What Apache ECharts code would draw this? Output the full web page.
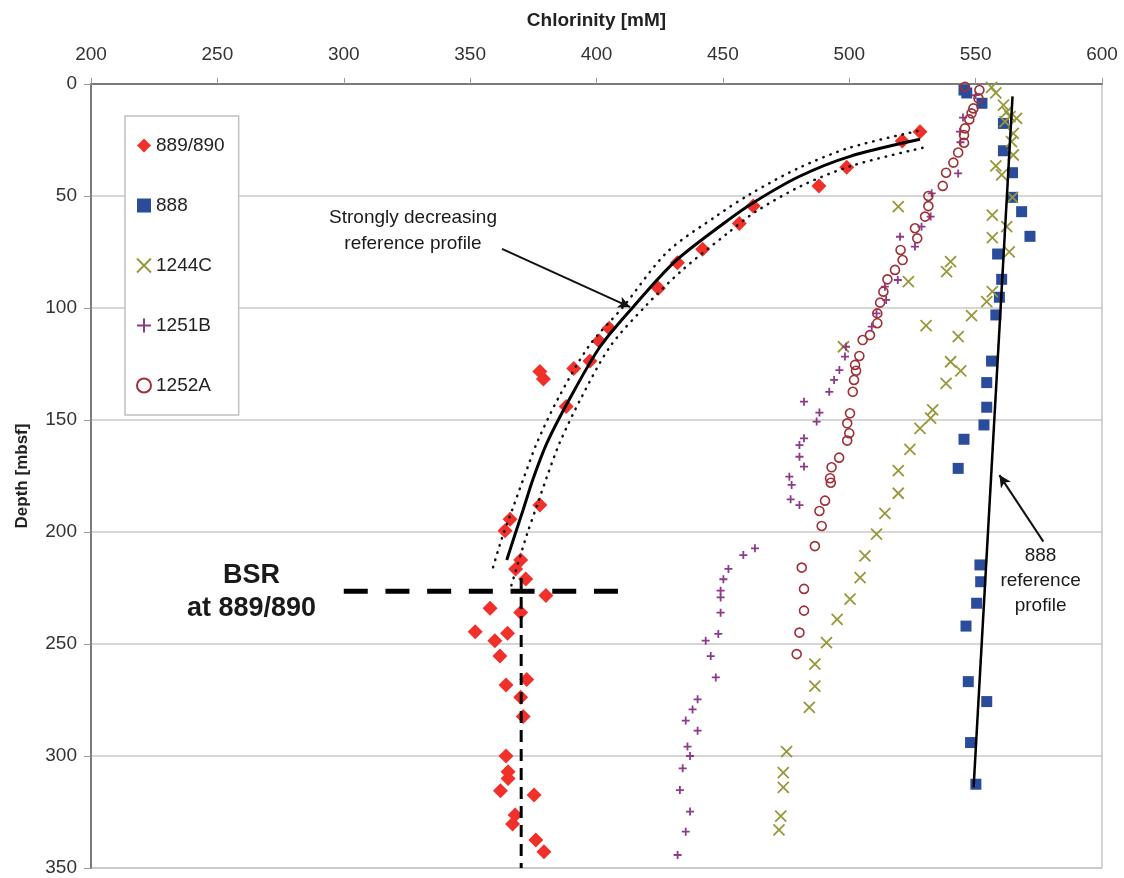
<!DOCTYPE html>
<html><head><meta charset="utf-8">
<script src="https://cdn.jsdelivr.net/npm/echarts@6/dist/echarts.min.js"></script>
<style>html,body{margin:0;padding:0;background:#fff}#c{width:1124px;height:878px}</style>
</head><body><div id="c"></div>
<script>
// ---- Data (chlorinity mM, depth mbsf) ----
const xTicks = [200,250,300,350,400,450,500,550,600];
const yTicks = [0,50,100,150,200,250,300,350];
const seriesNames = ['889/890','888','1244C','1251B','1252A'];

const s889 = [[528,21.3],[521,25.4],[499,37.2],[488,45.5],[462,54.5],[456.5,62.3],[442,73.8],[432,79.8],[424.5,91.2],[405,109],[401,114.7],[397.4,123.7],[391,127],[377.6,128.4],[379,131.7],[388,144],[377.6,188],[365.8,194.3],[363.8,199.4],[370,212.5],[368,216.5],[372,221],[380,228.4],[357.9,234],[370,235.9],[352,244.5],[364.8,245.2],[359.8,248.5],[361.8,255.4],[364.2,268.3],[372.4,265.8],[370,273.8],[371,282.4],[364.2,300],[365,307],[365,310],[362,315.5],[375.3,317.4],[367.8,326.3],[366.8,330.4],[376,337.5],[379.2,342.7]];

const s888 = [[545.4,2.7],[546.5,4],[552.5,8.6],[561,17.6],[561,29.8],[564.6,39.6],[564.6,50.6],[568.2,57],[571.5,68],[558.7,75.9],[560.3,87.2],[559.4,95.2],[558,103.1],[556.3,123.7],[554.4,133.3],[554.4,144.3],[553.3,152.2],[545.4,158.6],[543.1,171.6],[551.7,214.7],[552,222.2],[550.4,231.8],[546.2,242],[547.1,266.8],[554.4,275.7],[548,294],[550.1,312.6]];

const s1244C = [[556.3,1.5],[558,4],[561,9.4],[562.3,12.4],[563.6,14.6],[566.2,15.3],[561.6,16.8],[564.9,22],[564.2,25.7],[564.9,31.7],[558,36.6],[560.3,40.6],[564.6,50.6],[519.4,54.7],[556.6,58.5],[562.3,63.7],[556.6,68.6],[563.3,74.9],[540.1,79.3],[538.5,83.8],[523.4,88.2],[556.6,92.7],[554.4,97.2],[548.4,103.4],[530.4,107.9],[543.1,112.8],[497.7,117.3],[540.1,124],[544.1,128.1],[538.3,133.6],[533,145.5],[532.2,149.2],[528,153.7],[524,163.1],[519.4,172.6],[519.4,182.7],[514.1,191.7],[510.8,200.9],[506.2,210.7],[504.3,220.4],[500.3,230],[495.2,239],[491,249.4],[486.4,259],[486.4,268.8],[484.2,278.3],[475.2,298],[473.9,307.4],[473.9,314],[472.9,326.8],[472.2,333]];

const s1251B = [[550,5],[545,15],[543.8,21.3],[544,26],[543.1,39.9],[532.6,48.8],[532.2,59.2],[528.6,63.7],[520.1,68.2],[526,72.6],[519.2,87.5],[514.1,90.5],[514.6,96.4],[510.8,102.4],[508.9,108.3],[498.7,117.3],[498.3,121.7],[496.1,127.7],[494,132.1],[492.1,137.4],[482.1,141.8],[488.2,146.7],[487.1,150.7],[482.1,158.2],[480.3,161.2],[480.3,166.4],[482.1,170.8],[476.3,175.3],[477.2,179],[476.8,185.4],[480.3,188],[462.7,207.3],[458.1,210.3],[452.2,216.5],[450.2,221.1],[449.1,226.2],[449.1,229.2],[449.1,236],[448.2,245.5],[443.2,248.5],[445.2,255.4],[447.2,264.9],[440,274.7],[438,279.2],[435.3,284.2],[440,288.7],[436,295.8],[437,300],[434.1,305.5],[433,315.2],[437,324.8],[435.3,333.8],[432.1,344.2]];

const s1252A = [[545.8,1.2],[551.5,2.7],[551.1,6.4],[549.1,10.9],[548.4,13.1],[547.5,15.8],[545.8,19.8],[545.4,22.8],[545.4,26.2],[543.1,30.6],[541.2,35.1],[538.3,39.6],[537,45.5],[531.3,50],[531.3,54.5],[530,59.2],[526,64.4],[526.9,68.9],[520.3,74.1],[521.1,78.6],[518.1,83],[515.1,87.2],[513.5,92.7],[512.2,97.6],[511.1,102.4],[511.1,106.8],[508.2,112.1],[505.3,114.3],[504,121.4],[502.3,125.4],[502.7,128],[501.9,132.1],[501.4,137.4],[500.3,147],[499.2,151.5],[500,155.9],[499.2,159.2],[496,166.8],[493,171.1],[492.4,176],[492.7,178],[490.4,186],[488.2,190.6],[489.1,197.3],[486.4,206.3],[481.2,215.9],[482.1,225.4],[482.1,235.1],[480.3,244.9],[479.2,254.5]];

// reference profiles
const refStrong = [[528,24.7],[500,32.4],[480,41.4],[462,53],[450,62.5],[431,79.3],[414.6,99.4],[401.4,117.3],[389.5,140.3],[380.5,160],[375,176],[371,190],[367.5,202],[364.5,212.5]];
const refStrongLo = [[527,21],[500,28.5],[480,37.5],[461,49],[448,58.5],[428,75],[410.6,99.4],[397,117],[385,140],[376.5,160],[371.5,175],[367,189],[362.5,203],[358.5,218]];
const refStrongHi = [[529,28.5],[501,36.5],[481,45.5],[463,57],[452,66.5],[434,83],[419.2,99.4],[405.5,117],[394,140],[385.5,160],[380.5,175],[376.5,188],[372.5,201],[366,225]];
const ref888 = [[564.6,5.5],[549.2,314]];

// BSR lines
const bsrH = [[300,226.5],[410,226.5]];
const bsrV = [[370.2,220.5],[370.2,350]];

// annotations (text anchor in data coords) and arrows
const annStrong = {text:'Strongly decreasing\nreference profile', at:[327.4,65.4], arrow:[[362.6,73.6],[413.3,99.6]]};
const ann888 = {text:'888\nreference\nprofile', at:[575.7,221.9], arrow:[[576.8,204.3],[559.4,174.6]]};
const annBSR = {text:'BSR\nat 889/890', at:[263.5,226.6]};

const FONT = '"Liberation Sans", Arial, sans-serif';
const chart = echarts.init(document.getElementById('c'), null, {renderer:'canvas'});

const crossPath = 'path://M0,0L10,10M10,0L0,10';
const plusPath = 'path://M5,0L5,10M0,5L10,5';

function annSeries(a, font){
  return {
    type:'scatter', name:'_ann', silent:true, symbolSize:0, z:5,
    itemStyle:{opacity:1},
    data:[a.at],
    label:{show:true, position:'inside', formatter:a.text, color:'#1a1a1a', opacity:1, fontFamily:FONT, ...font},
    markLine: a.arrow ? {
      silent:true, symbol:['none','arrow'], symbolSize:[9,12],
      label:{show:false},
      lineStyle:{color:'#111', width:2, type:'solid', opacity:1},
      data:[[{coord:a.arrow[0]},{coord:a.arrow[1]}]]
    } : undefined
  };
}

const dotted = {color:'#111', width:2.5, type:[0.5,7], cap:'round'};

const option = {
  backgroundColor:'#fff',
  animation:false,
  textStyle:{fontFamily:FONT},
  grid:{left:91, right:22, top:84, bottom:10, show:true, borderColor:'#a8a8a8', borderWidth:1},
  legend:{
    data:seriesNames, orient:'vertical', left:125, top:116,
    padding:[20,14,20,11], itemGap:41, itemWidth:14, itemHeight:14,
    borderColor:'#c0c0c0', borderWidth:1.5, backgroundColor:'#fff',
    textStyle:{fontSize:19, color:'#222', fontFamily:FONT}
  },
  xAxis:{
    type:'value', position:'top', min:xTicks[0], max:xTicks[xTicks.length-1], interval:50,
    name:'Chlorinity [mM]', nameLocation:'middle', nameGap:54,
    nameTextStyle:{fontSize:19, fontWeight:'bold', color:'#222', fontFamily:FONT},
    axisLine:{show:true, lineStyle:{color:'#7a7a7a', width:2}},
    axisTick:{show:true, length:6, lineStyle:{color:'#9a9a9a'}},
    axisLabel:{fontSize:19, color:'#333', margin:20, fontFamily:FONT},
    splitLine:{show:false}
  },
  yAxis:{
    type:'value', inverse:true, min:yTicks[0], max:yTicks[yTicks.length-1], interval:50,
    name:'Depth [mbsf]', nameLocation:'middle', nameGap:60, nameRotate:90,
    nameTextStyle:{fontSize:17, fontWeight:'bold', color:'#222', fontFamily:FONT},
    axisLine:{show:true, lineStyle:{color:'#7a7a7a', width:2}},
    axisTick:{show:true, length:7, lineStyle:{color:'#9a9a9a'}},
    axisLabel:{fontSize:19, color:'#333', margin:14, fontFamily:FONT},
    splitLine:{show:true, lineStyle:{color:'#c8c8c8', width:1.5}}
  },
  series:[
    {name:'889/890', type:'scatter', symbol:'diamond', symbolSize:[15,15], z:3,
     itemStyle:{color:'#f2302a', opacity:1}, data:s889},
    {name:'888', type:'scatter', symbol:'rect', symbolSize:11, z:3,
     itemStyle:{color:'#2b4c9a', opacity:1}, data:s888},
    {name:'1244C', type:'scatter', symbol:crossPath, symbolSize:11, z:3,
     itemStyle:{color:'rgba(0,0,0,0)', borderColor:'#98983a', borderWidth:1.8, opacity:1}, data:s1244C},
    {name:'1251B', type:'scatter', symbol:plusPath, symbolSize:8, z:3,
     itemStyle:{color:'rgba(0,0,0,0)', borderColor:'#8e3a8c', borderWidth:1.8, opacity:1}, data:s1251B},
    {name:'1252A', type:'scatter', symbol:'circle', symbolSize:9, z:3,
     itemStyle:{color:'rgba(255,255,255,0)', borderColor:'#a03038', borderWidth:1.6, opacity:1}, data:s1252A},
    {name:'_refStrong', type:'line', smooth:0.3, symbol:'none', z:4, silent:true,
     lineStyle:{color:'#000', width:3}, data:refStrong},
    {name:'_refStrongLo', type:'line', smooth:0.3, symbol:'none', z:4, silent:true,
     lineStyle:dotted, data:refStrongLo},
    {name:'_refStrongHi', type:'line', smooth:0.3, symbol:'none', z:4, silent:true,
     lineStyle:dotted, data:refStrongHi},
    {name:'_ref888', type:'line', symbol:'none', z:4, silent:true,
     lineStyle:{color:'#000', width:2.5}, data:ref888},
    {name:'_bsrH', type:'line', symbol:'none', z:4, silent:true,
     lineStyle:{color:'#000', width:5, type:[24,17.7]}, data:bsrH},
    {name:'_bsrV', type:'line', symbol:'none', z:4, silent:true,
     lineStyle:{color:'#000', width:3, type:[12,7]}, data:bsrV},
    annSeries(annStrong, {fontSize:19, lineHeight:26}),
    annSeries(ann888, {fontSize:19, lineHeight:25}),
    annSeries(annBSR, {fontSize:27, fontWeight:'bold', lineHeight:33})
  ]
};
chart.setOption(option);
</script>
</body></html>
